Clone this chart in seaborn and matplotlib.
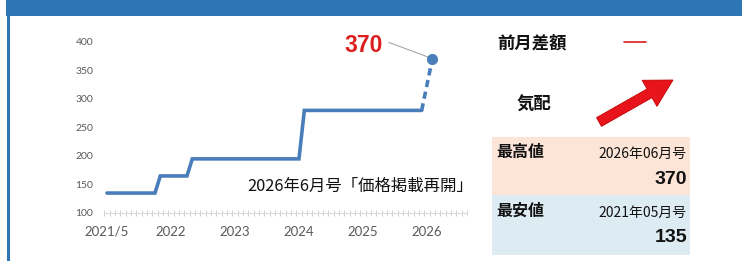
import numpy as np
import pandas as pd
import matplotlib
matplotlib.use("Agg")
import matplotlib.pyplot as plt
import seaborn as sns
from matplotlib.patches import Rectangle, FancyArrow
from matplotlib.ticker import FixedLocator

# ---------------- data ----------------
months = ["2021/05", "2022/02", "2022/03", "2022/08", "2022/09",
          "2024/05", "2024/06", "2026/04"]
prices = [135, 135, 165, 165, 195, 195, 280, 280]
resume_months = ["2026/04", "2026/06"]
resume_prices = [280, 370]
axis_start = "2021/05"
axis_end = "2026/12"
x_tick_months = ["2021/05", "2022/05", "2023/05", "2024/05", "2025/05", "2026/05"]
x_tick_labels = ["2021/5", "2022", "2023", "2024", "2025", "2026"]
y_ticks = [100, 150, 200, 250, 300, 350, 400]
latest_label = "370"
note = "2026年6月号「価格掲載再開」"
diff_label = "前月差額"
trend_label = "気配"
high_label, high_issue, high_value = "最高値", "2026年06月号", "370"
low_label, low_issue, low_value = "最安値", "2021年05月号", "135"

# ---------------- style ----------------
sns.set_style("white")
JP = ["Noto Sans CJK JP", "DejaVu Sans"]
plt.rcParams["font.family"] = JP
NUM = ["Liberation Sans", "DejaVu Sans"]

BLUE = "#4A7EBB"
RED = "#DC1E1E"


def midx(s):
    y, m = map(int, s.split("/"))
    y0, m0 = map(int, axis_start.split("/"))
    return (y - y0) * 12 + (m - m0)


W, H = 742, 262
fig = plt.figure(figsize=(W / 100, H / 100), dpi=100)

# decoration layer in pixel coordinates
bg = fig.add_axes([0, 0, 1, 1], zorder=0)
bg.set_xlim(0, W)
bg.set_ylim(H, 0)
bg.axis("off")
bg.add_patch(Rectangle((6, 0), W - 6, 15.5, color="#2E75B6", lw=0))
bg.add_patch(Rectangle((6.7, 0), 3.3, 261, color="#2E75B6", lw=0))
bg.add_patch(Rectangle((492, 137), 198, 58, color="#FCE4D6", lw=0))
bg.add_patch(Rectangle((492, 195), 198, 60, color="#DDEBF3", lw=0))

# main chart
ax = fig.add_axes([104.3 / W, 1 - 213 / H, (467 - 104.3) / W, (213 - 42) / H], zorder=1)
ax.patch.set_alpha(0)

df = pd.DataFrame({"x": [midx(m) for m in months], "price": prices})
dr = pd.DataFrame({"x": [midx(m) for m in resume_months], "price": resume_prices})

sns.lineplot(data=df, x="x", y="price", ax=ax, color=BLUE, lw=2.6,
             solid_joinstyle="miter", clip_on=False)
sns.lineplot(data=dr, x="x", y="price", ax=ax, color=BLUE, lw=2.6,
             linestyle=(0, (2.0, 1.3)), clip_on=False)
sns.scatterplot(x=dr["x"].iloc[-1:], y=dr["price"].iloc[-1:], ax=ax, color=BLUE,
                s=55, edgecolor=BLUE, zorder=5, clip_on=False)

ax.set_xlim(midx(axis_start) - 0.5, midx(axis_end) + 0.5)
ax.set_ylim(100, 400)
ax.set_xlabel("")
ax.set_ylabel("")
for side in ["top", "right", "left"]:
    ax.spines[side].set_visible(False)
ax.spines["bottom"].set_color("#D9D9D9")
ax.spines["bottom"].set_linewidth(0.8)

ax.set_yticks(y_ticks)
ax.set_yticklabels([str(v) for v in y_ticks], family=["Lato", "DejaVu Sans"],
                   fontsize=7.5, color="#595959")
ax.tick_params(axis="y", length=0, pad=8)

ax.set_xticks([midx(m) for m in x_tick_months])
ax.set_xticklabels(x_tick_labels, family=["Lato", "DejaVu Sans"],
                   fontsize=9.5, color="#595959")
ax.xaxis.set_minor_locator(FixedLocator(
    np.arange(midx(axis_start) - 0.5, midx(axis_end) + 1.0, 1.0)))
ax.tick_params(axis="x", which="major", length=0, pad=9, bottom=True)
ax.tick_params(axis="x", which="minor", length=4, width=0.7, bottom=True,
               direction="inout", color="#D0D0D0")

# annotations on the chart
bg.text(364, 45, latest_label, color=RED, fontsize=16.5, fontweight="bold",
        ha="center", va="center", family=NUM, zorder=3)
bg.plot([389, 428], [42.5, 57], color="#A6A6A6", lw=0.8, zorder=2)
bg.text(247, 186, note, fontsize=11.8, color="#111111", ha="left", va="center",
        zorder=3)

# right panel
bg.text(497, 44, diff_label, fontsize=12.5, fontweight="bold", ha="left",
        va="center", color="#111111")
bg.plot([624, 646], [42, 42], color=RED, lw=1.2)
bg.text(517, 105, trend_label, fontsize=12.5, fontweight="bold", ha="left",
        va="center", color="#111111")
bg.add_patch(FancyArrow(599, 122, 74, -42, width=10, head_width=30,
                        head_length=27, length_includes_head=True,
                        color="#E8141B", ec="#C00000", lw=0.6))

bg.text(496, 152, high_label, fontsize=11.5, fontweight="bold", ha="left",
        va="center", color="#111111")
bg.text(687, 154, high_issue, fontsize=10, ha="right", va="center",
        color="#111111")
bg.text(687, 180, high_value, fontsize=14, fontweight="bold", ha="right",
        va="center", color="#111111", family=NUM)
bg.text(496, 211, low_label, fontsize=11.5, fontweight="bold", ha="left",
        va="center", color="#111111")
bg.text(687, 213, low_issue, fontsize=10, ha="right", va="center",
        color="#111111")
bg.text(687, 238, low_value, fontsize=14, fontweight="bold", ha="right",
        va="center", color="#111111", family=NUM)

fig.savefig("out.png", dpi=100)
